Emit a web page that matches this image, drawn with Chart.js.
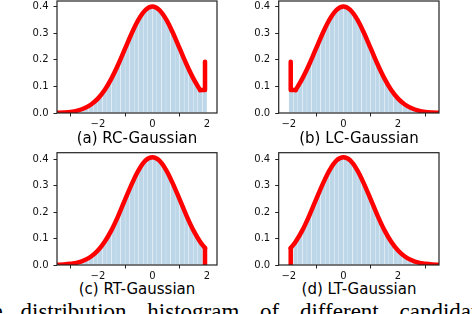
<!DOCTYPE html>
<html><head><meta charset="utf-8">
<script src="https://cdn.jsdelivr.net/npm/chart.js@4.4.0/dist/chart.umd.min.js"></script>
<style>
html,body{margin:0;padding:0;background:#fff;width:472px;height:314px;overflow:hidden;position:relative;}
canvas{position:absolute;}
.cap{position:absolute;width:220px;text-align:center;font-family:"DejaVu Sans";font-size:15px;line-height:18px;color:#000;white-space:nowrap;}
#caption{position:absolute;left:-33px;top:299.5px;font-family:"Liberation Serif";font-size:23px;line-height:23px;white-space:nowrap;word-spacing:15px;color:#000;}
</style></head><body>
<canvas id="ca" width="236" height="130" style="left:0;top:0"></canvas>
<canvas id="cb" width="236" height="130" style="left:236px;top:0"></canvas>
<canvas id="cc" width="236" height="130" style="left:0;top:150px"></canvas>
<canvas id="cd" width="236" height="130" style="left:236px;top:150px"></canvas>
<div class="cap" style="left:27px;top:128.5px">(a) RC-Gaussian</div>
<div class="cap" style="left:249px;top:128.5px">(b) LC-Gaussian</div>
<div class="cap" style="left:27px;top:280px">(c) RT-Gaussian</div>
<div class="cap" style="left:249px;top:280px">(d) LT-Gaussian</div>
<div id="caption"><span style="margin-right:-3px">The</span> distribution histogram of different candidate distributions.</div>
<script>
// ---- data ----
const titles = ["(a) RC-Gaussian", "(b) LC-Gaussian", "(c) RT-Gaussian", "(d) LT-Gaussian"];
const xTicks = [-2, 0, 2];
const yTicks = [0, 0.1, 0.2, 0.3, 0.4];

const binsRight = [-3.417,-3.25,-3.083,-2.917,-2.75,-2.583,-2.417,-2.25,-2.083,-1.917,-1.75,-1.583,-1.417,-1.25,-1.083,-0.917,-0.75,-0.583,-0.417,-0.25,-0.083,0.083,0.25,0.417,0.583,0.75,0.917,1.083,1.25,1.417,1.583,1.75,1.917];
const binsLeft = [-1.917,-1.75,-1.583,-1.417,-1.25,-1.083,-0.917,-0.75,-0.583,-0.417,-0.25,-0.083,0.083,0.25,0.417,0.583,0.75,0.917,1.083,1.25,1.417,1.583,1.75,1.917,2.083,2.25,2.417,2.583,2.75,2.917,3.083,3.25,3.417];

const histA = [0.001,0.002,0.004,0.006,0.009,0.014,0.021,0.032,0.046,0.064,0.086,0.114,0.146,0.183,0.222,0.262,0.301,0.336,0.366,0.387,0.397,0.397,0.387,0.366,0.336,0.301,0.262,0.222,0.183,0.146,0.114,0.086,0.09];
const histB = [0.09,0.086,0.114,0.146,0.183,0.222,0.262,0.301,0.336,0.366,0.387,0.397,0.397,0.387,0.366,0.336,0.301,0.262,0.222,0.183,0.146,0.114,0.086,0.064,0.046,0.032,0.021,0.014,0.009,0.006,0.004,0.002,0.001];
const histC = [0.001,0.002,0.004,0.006,0.009,0.015,0.022,0.033,0.047,0.065,0.088,0.117,0.149,0.187,0.227,0.268,0.308,0.344,0.374,0.396,0.406,0.406,0.396,0.374,0.344,0.308,0.268,0.227,0.187,0.149,0.117,0.088,0.065];
const histD = [0.065,0.088,0.117,0.149,0.187,0.227,0.268,0.308,0.344,0.374,0.396,0.406,0.406,0.396,0.374,0.344,0.308,0.268,0.227,0.187,0.149,0.117,0.088,0.065,0.047,0.033,0.022,0.015,0.009,0.006,0.004,0.002,0.001];

const curveXA = [-3.5,-3.25,-3,-2.75,-2.5,-2.25,-2,-1.75,-1.5,-1.25,-1,-0.75,-0.5,-0.25,0,0.25,0.5,0.75,1,1.25,1.5,1.75];
const curveYA = [0.001,0.002,0.004,0.009,0.018,0.032,0.054,0.086,0.130,0.183,0.242,0.301,0.352,0.387,0.399,0.387,0.352,0.301,0.242,0.183,0.130,0.086];
const edgeXA = [1.75, 1.93, 1.93];
const edgeYA = [0.086, 0.086, 0.192];

const curveXB = [-1.75,-1.5,-1.25,-1,-0.75,-0.5,-0.25,0,0.25,0.5,0.75,1,1.25,1.5,1.75,2,2.25,2.5,2.75,3,3.25,3.5];
const curveYB = [0.086,0.130,0.183,0.242,0.301,0.352,0.387,0.399,0.387,0.352,0.301,0.242,0.183,0.130,0.086,0.054,0.032,0.018,0.009,0.004,0.002,0.001];
const edgeXB = [-1.93, -1.93, -1.75];
const edgeYB = [0.192, 0.086, 0.086];

const curveXC = [-3.5,-3.25,-3,-2.75,-2.5,-2.25,-2,-1.75,-1.5,-1.25,-1,-0.75,-0.5,-0.25,0,0.25,0.5,0.75,1,1.25,1.5,1.75,1.93];
const curveYC = [0.001,0.002,0.0045,0.009,0.018,0.032,0.055,0.088,0.132,0.187,0.248,0.308,0.360,0.396,0.408,0.396,0.360,0.308,0.248,0.187,0.132,0.088,0.064];
const edgeXC = [1.93, 1.93];
const edgeYC = [0.064, 0];

const curveXD = [-1.93,-1.75,-1.5,-1.25,-1,-0.75,-0.5,-0.25,0,0.25,0.5,0.75,1,1.25,1.5,1.75,2,2.25,2.5,2.75,3,3.25,3.5];
const curveYD = [0.064,0.088,0.132,0.187,0.248,0.308,0.360,0.396,0.408,0.396,0.360,0.308,0.248,0.187,0.132,0.088,0.055,0.032,0.018,0.009,0.0045,0.002,0.001];
const edgeXD = [-1.93, -1.93];
const edgeYD = [0, 0.064];

// ---- drawing ----
const framePlugin = {
  id: 'frame',
  afterDatasetsDraw(chart) {
    const {ctx, chartArea: a} = chart;
    ctx.save();
    ctx.strokeStyle = '#222';
    ctx.lineWidth = 1.2;
    ctx.strokeRect(a.left, a.top, a.right - a.left, a.bottom - a.top);
    ctx.restore();
  }
};

function fmtX(v) { return v < 0 ? '\u2212' + Math.abs(v) : String(v); }
const pts = (xs, ys) => xs.map((x, i) => ({x: x, y: ys[i]}));

function makePanel(id, c) {
  new Chart(document.getElementById(id), {
    type: 'bar',
    data: { datasets: [
      { type: 'line', data: pts(c.cx, c.cy), borderColor: '#ff0000', borderWidth: 4.5, pointRadius: 0,
        tension: 0.35, fill: false, borderCapStyle: 'round', borderJoinStyle: 'round', clip: 0, order: 0 },
      { type: 'line', data: pts(c.ex, c.ey), borderColor: '#ff0000', borderWidth: 4.5, pointRadius: 0,
        tension: 0, fill: false, borderCapStyle: 'round', borderJoinStyle: 'round', clip: 0, order: 1 },
      { type: 'bar', data: pts(c.bins, c.hist), backgroundColor: 'rgb(189,215,233)',
        borderColor: 'rgba(255,255,255,0.9)', borderWidth: {left: 0.4, right: 0.4, top: 0, bottom: 0},
        borderSkipped: false, barPercentage: 1, categoryPercentage: 1, grouped: false, order: 2 }
    ]},
    options: {
      responsive: false, animation: false, events: [],
      layout: { padding: c.pad },
      plugins: { legend: { display: false }, tooltip: { enabled: false } },
      scales: {
        x: {
          type: 'linear', min: c.xmin, max: c.xmax, offset: false,
          grid: { display: true, drawOnChartArea: false, drawTicks: true, tickLength: 3.5, color: '#222', tickWidth: 1 },
          border: { display: false },
          ticks: { font: { family: 'DejaVu Sans', size: 10 }, color: '#111', padding: 1.5, maxRotation: 0, autoSkip: false,
                   callback: v => fmtX(v) },
          afterBuildTicks: a => { a.ticks = xTicks.map(v => ({value: v})); },
          afterFit: a => { a.height = c.xh; a.paddingLeft = 0; a.paddingRight = 0; }
        },
        y: {
          type: 'linear', min: 0, max: c.ymax,
          grid: { display: true, drawOnChartArea: false, drawTicks: true, tickLength: 3.5, color: '#222', tickWidth: 1 },
          border: { display: false },
          ticks: { font: { family: 'DejaVu Sans', size: 10 }, color: '#111', padding: 5, autoSkip: false,
                   callback: v => Number(v).toFixed(1) },
          afterBuildTicks: a => { a.ticks = yTicks.map(v => ({value: v})); },
          afterFit: a => { a.width = c.yw; a.paddingTop = 0; a.paddingBottom = 0; }
        }
      }
    },
    plugins: [framePlugin]
  });
}

makePanel('ca', { bins: binsRight, hist: histA, cx: curveXA, cy: curveYA, ex: edgeXA, ey: edgeYA,
  xmin: -3.5, xmax: 2.37, ymax: 0.42, pad: {left: 0, top: 1, right: 19, bottom: 0}, yw: 57, xh: 17 });
makePanel('cb', { bins: binsLeft, hist: histB, cx: curveXB, cy: curveYB, ex: edgeXB, ey: edgeYB,
  xmin: -2.37, xmax: 3.5, ymax: 0.42, pad: {left: 0, top: 1, right: 33, bottom: 0}, yw: 42.7, xh: 17 });
makePanel('cc', { bins: binsRight, hist: histC, cx: curveXC, cy: curveYC, ex: edgeXC, ey: edgeYC,
  xmin: -3.5, xmax: 2.37, ymax: 0.425, pad: {left: 0, top: 2.7, right: 19, bottom: 0}, yw: 57, xh: 15 });
makePanel('cd', { bins: binsLeft, hist: histD, cx: curveXD, cy: curveYD, ex: edgeXD, ey: edgeYD,
  xmin: -2.37, xmax: 3.5, ymax: 0.425, pad: {left: 0, top: 2.7, right: 33, bottom: 0}, yw: 42.7, xh: 15 });
</script>
</body></html>
